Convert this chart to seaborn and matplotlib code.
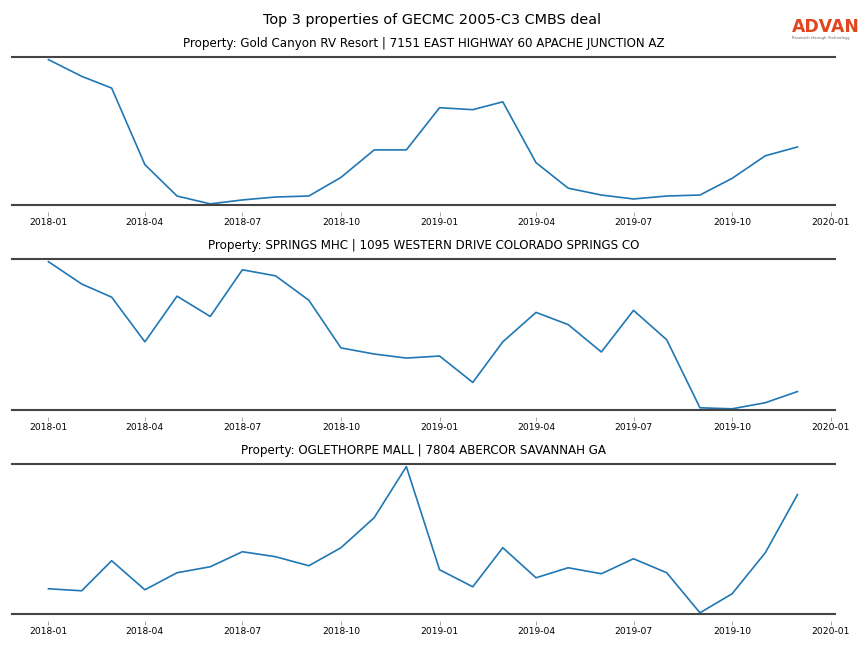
import matplotlib
matplotlib.use("Agg")
import matplotlib.pyplot as plt
import matplotlib.dates as mdates
import seaborn as sns
import pandas as pd

# === Dados (escala relativa) ===
meses = pd.date_range("2018-01-01", "2019-12-01", freq="MS")

titulos = [
    "Property: Gold Canyon RV Resort | 7151 EAST HIGHWAY 60 APACHE JUNCTION AZ",
    "Property: SPRINGS MHC | 1095 WESTERN DRIVE COLORADO SPRINGS CO",
    "Property: OGLETHORPE MALL | 7804 ABERCOR SAVANNAH GA",
]

gold_canyon = [147, 130, 118, 40, 8, 0, 4, 7, 8, 27, 55, 55,
               98, 96, 104, 42, 16, 9, 5, 8, 9, 26, 49, 58]
springs_mhc = [147, 125, 112, 68, 113, 93, 139, 133, 109, 62, 56, 52,
               54, 28, 68, 97, 85, 58, 99, 70, 3, 2, 8, 19]
oglethorpe = [25, 23, 53, 24, 41, 47, 62, 57, 48, 66, 96, 147,
              44, 27, 66, 36, 46, 40, 55, 41, 1, 20, 61, 119]

series = [gold_canyon, springs_mhc, oglethorpe]

# === Layout ===
fig = plt.figure(figsize=(8.64, 6.48), dpi=100)
posicoes = [
    [0.0139, 0.6836, 0.9525, 0.2284],
    [0.0139, 0.3673, 0.9525, 0.2330],
    [0.0139, 0.0525, 0.9525, 0.2315],
]

fig.suptitle("Top 3 properties of GECMC 2005-C3 CMBS deal", fontsize=10.4, y=0.98)

# logo
fig.text(0.9165, 0.945, "ADVAN", color="#E2461E", fontsize=12.4, weight="bold",
         ha="left", va="bottom")
fig.text(0.9165, 0.938, "Research through Technology", color="#666666", fontsize=2.8,
         ha="left", va="bottom")

for pos, valores, titulo in zip(posicoes, series, titulos):
    ax = fig.add_axes(pos)
    df = pd.DataFrame({"mes": meses, "valor": valores})
    sns.lineplot(data=df, x="mes", y="valor", ax=ax, color="#1f77b4", linewidth=1.2)

    ax.set_title(titulo, fontsize=8.6, pad=7)
    ax.set_xlabel("")
    ax.set_ylabel("")
    ax.set_yticks([])

    span = max(valores) - min(valores)
    ax.set_ylim(min(valores) - span * 0.008, max(valores) + span * 0.018)
    ax.set_xlim(pd.Timestamp("2017-11-28"), pd.Timestamp("2020-01-05"))

    ax.xaxis.set_major_locator(mdates.MonthLocator(bymonth=[1, 4, 7, 10]))
    ax.xaxis.set_major_formatter(mdates.DateFormatter("%Y-%m"))
    ax.tick_params(axis="x", labelsize=6.6, length=3, width=0.6, color="#999999", pad=1.5)

    # linhas superior / inferior
    ax.spines["left"].set_visible(False)
    ax.spines["right"].set_visible(False)
    ax.spines["top"].set_color("#444444")
    ax.spines["top"].set_linewidth(1.5)
    ax.spines["bottom"].set_position(("outward", 5))
    ax.spines["bottom"].set_visible(False)
    ax.axhline(ax.get_ylim()[0], color="#444444", linewidth=1.5, clip_on=False)

fig.savefig("out.png", dpi=100)
